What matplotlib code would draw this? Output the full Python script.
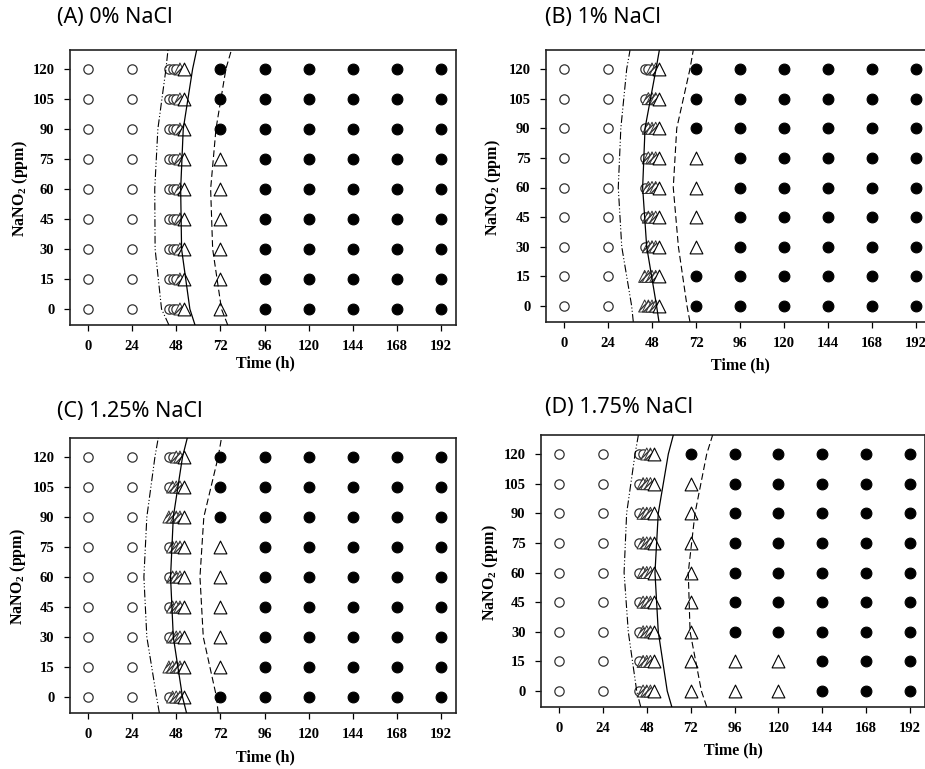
import matplotlib
matplotlib.use('Agg')
import matplotlib.pyplot as plt

plt.rcParams['mathtext.fontset'] = 'custom'
plt.rcParams['mathtext.rm'] = 'Liberation Serif:bold'
plt.rcParams['mathtext.bf'] = 'Liberation Serif:bold'

# data
times = [0, 24, 44, 46, 48, 50, 52, 72, 96, 120, 144, 168, 192]
nitrite = [0, 15, 30, 45, 60, 75, 90, 105, 120]
xticks = [0, 24, 48, 72, 96, 120, 144, 168, 192]
titles = ['(A) 0% NaCl', '(B) 1% NaCl', '(C) 1.25% NaCl', '(D) 1.75% NaCl']

# o = open circle, h = hatched triangle, t = open triangle, f = filled circle
# rows from 0 ppm (first) to 120 ppm (last); columns follow `times`
grid_a = [
    'ooooohttfffff',
    'ooooohttfffff',
    'ooooohttfffff',
    'ooooohttfffff',
    'ooooohttfffff',
    'ooooohttfffff',
    'ooooohtffffff',
    'ooooohtffffff',
    'ooooohtffffff',
]
grid_b = [
    'oohhhhtffffff',
    'oohhhhtffffff',
    'ooohhhttfffff',
    'ooohhhttfffff',
    'ooohhhttfffff',
    'ooohhhttfffff',
    'ooohhhtffffff',
    'ooohhhtffffff',
    'oooohhtffffff',
]
grid_c = [
    'ooohhhtffffff',
    'oohhhhttfffff',
    'ooohhhttfffff',
    'ooohhhttfffff',
    'ooohhhttfffff',
    'ooohhhttfffff',
    'oohhhhtffffff',
    'ooohhhtffffff',
    'oooohhtffffff',
]
grid_d = [
    'ooohhhttttfff',
    'ooohhhttttfff',
    'ooohhhttfffff',
    'ooohhhttfffff',
    'ooohhhttfffff',
    'ooohhhttfffff',
    'ooohhhttfffff',
    'ooohhhttfffff',
    'oooohhtffffff',
]

# boundary curves: time (h) at these NaNO2 levels
curve_y = [-8, 0, 30, 60, 90, 120, 129.5]
dashdot_a = [44.0, 40.0, 36.5, 36.3, 38.0, 42.4, 43.5]
solid_a = [58.2, 55.4, 50.9, 50.4, 51.8, 56.9, 59.1]
dashed_a = [76.0, 72.6, 67.8, 66.7, 69.6, 75.0, 78.0]
dashdot_b = [37.8, 36.9, 31.5, 29.6, 31.0, 34.2, 36.0]
solid_b = [51.8, 50.5, 45.1, 42.9, 44.2, 50.2, 52.0]
dashed_b = [68.7, 67.1, 62.4, 59.6, 61.5, 68.7, 70.5]
dashdot_c = [38.8, 37.3, 32.0, 30.4, 32.0, 36.4, 38.2]
solid_c = [53.6, 51.4, 46.4, 44.9, 46.4, 51.4, 54.0]
dashed_c = [70.8, 69.9, 62.7, 60.9, 63.0, 70.8, 72.6]
dashdot_d = [44.7, 42.5, 37.9, 35.6, 37.0, 41.6, 43.4]
solid_d = [61.7, 59.2, 54.3, 52.5, 54.3, 59.8, 62.5]
dashed_d = [80.8, 77.9, 71.7, 70.7, 74.4, 80.8, 84.0]

# pixel anchors: (x of 0 h, x of 192 h, y of 0 ppm, y of 120 ppm)
anchors = [(88, 441, 309, 69), (564, 916, 306, 69),
           (88, 441, 697, 457), (559, 910, 691, 454)]
title_pos = [(57, 17), (545, 17), (57, 412), (545, 408)]
xlabel_pos = [(265, 363), (740, 365), (265, 757), (733, 750)]
ylabel_x = [20, 493, 18, 490]

W, H = 925, 769
XLIM = (-10, 200)
YLIM = (-8, 129.5)

fig = plt.figure(figsize=(W / 100, H / 100), dpi=100)

grids = [grid_a, grid_b, grid_c, grid_d]
curves = [(dashdot_a, solid_a, dashed_a), (dashdot_b, solid_b, dashed_b),
          (dashdot_c, solid_c, dashed_c), (dashdot_d, solid_d, dashed_d)]

serif = 'Liberation Serif'

for i in range(4):
    x0, x1, y0, y1 = anchors[i]
    sx = (x1 - x0) / 192.0
    sy = (y0 - y1) / 120.0
    left = x0 + XLIM[0] * sx
    right = x0 + XLIM[1] * sx
    top = y1 - (YLIM[1] - 120) * sy
    bottom = y0 - YLIM[0] * sy
    ax = fig.add_axes([left / W, 1 - bottom / H, (right - left) / W, (bottom - top) / H])

    grid = grids[i]
    for r, conc in enumerate(nitrite):
        row = grid[r]
        for c, t in enumerate(times):
            code = row[c]
            if code == 'o':
                ax.scatter(t, conc, s=45, marker='o', facecolor='white',
                           edgecolor='#333333', linewidth=0.9, zorder=3)
            elif code == 'f':
                ax.scatter(t, conc, s=60, marker='o', facecolor='black',
                           edgecolor='black', linewidth=0.8, zorder=3)
            elif code == 'h':
                ax.scatter(t, conc, s=75, marker='^', facecolor='white',
                           edgecolor='#333333', linewidth=0.7, hatch='//////', zorder=3)
            elif code == 't':
                ax.scatter(t, conc, s=85, marker='^', facecolor='white',
                           edgecolor='black', linewidth=0.8, zorder=4)

    dd, so, da = curves[i]
    ax.plot(dd, curve_y, color='black', linewidth=0.8, dashes=(7, 2, 1, 2, 1, 2), zorder=5)
    ax.plot(so, curve_y, color='black', linewidth=0.9, zorder=5)
    ax.plot(da, curve_y, color='black', linewidth=0.8, dashes=(6, 3), zorder=5)

    ax.set_xlim(XLIM)
    ax.set_ylim(YLIM)
    ax.set_xticks(xticks)
    ax.set_yticks(nitrite)
    ax.tick_params(direction='out', length=4, width=0.9, pad=7)
    for lab in ax.get_xticklabels() + ax.get_yticklabels():
        lab.set_fontfamily(serif)
        lab.set_fontweight('bold')
        lab.set_fontsize(10.5)
    for sp in ax.spines.values():
        sp.set_linewidth(1.2)
        sp.set_color('#222222')

    tx, ty = title_pos[i]
    fig.text(tx / W, 1 - ty / H, titles[i], fontsize=15.5, family='Noto Sans',
             ha='left', va='center')
    lx, ly = xlabel_pos[i]
    fig.text(lx / W, 1 - ly / H, 'Time (h)', fontsize=11.5, family=serif,
             fontweight='bold', ha='center', va='center')
    fig.text(ylabel_x[i] / W, 1 - (y0 + y1) / 2 / H, r'NaNO$_{\mathbf{2}}$ (ppm)',
             fontsize=11.5, family=serif, fontweight='bold', rotation=90,
             ha='center', va='center')

fig.savefig('out.png', dpi=100)
